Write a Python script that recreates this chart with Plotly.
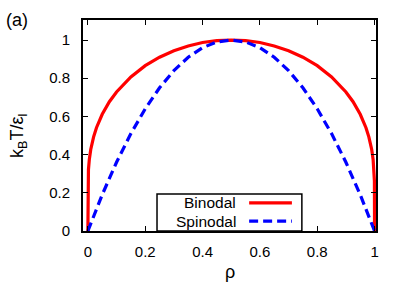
import plotly.graph_objects as go

# Data
rho_binodal = [0.0, 0.0005, 0.002, 0.005, 0.01, 0.02, 0.03, 0.05, 0.075, 0.1, 0.15, 0.2, 0.25, 0.3, 0.35, 0.4, 0.45, 0.5,
               0.55, 0.6, 0.65, 0.7, 0.75, 0.8, 0.85, 0.9, 0.925, 0.95, 0.97, 0.98, 0.99, 0.995, 0.998, 0.9995, 1.0]
T_binodal = [0.0, 0.263, 0.321, 0.374, 0.427, 0.493, 0.541, 0.611, 0.677, 0.728, 0.807, 0.866, 0.910, 0.944, 0.969, 0.987, 0.997, 1.0,
             0.997, 0.987, 0.969, 0.944, 0.910, 0.866, 0.807, 0.728, 0.677, 0.611, 0.541, 0.493, 0.427, 0.374, 0.321, 0.263, 0.0]

rho_spinodal = [0.0, 0.05, 0.1, 0.15, 0.2, 0.25, 0.3, 0.35, 0.4, 0.45, 0.5, 0.55, 0.6, 0.65, 0.7, 0.75, 0.8, 0.85, 0.9, 0.95, 1.0]
T_spinodal = [0.0, 0.19, 0.36, 0.51, 0.64, 0.75, 0.84, 0.91, 0.96, 0.99, 1.0, 0.99, 0.96, 0.91, 0.84, 0.75, 0.64, 0.51, 0.36, 0.19, 0.0]

tick_vals = [0, 0.2, 0.4, 0.6, 0.8, 1]
tick_text = ["0", "0.2", "0.4", "0.6", "0.8", "1"]
legend_names = ["Binodal", "Spinodal"]
x_title = "ρ"
y_title = "k<sub>B</sub>T/ε<sub>l</sub>"
panel_label = "(a)"

FONT = "Liberation Sans, Arial, sans-serif"
RED = "#ff0000"
BLUE = "#0000ff"

fig = go.Figure()
fig.add_trace(go.Scatter(x=rho_binodal, y=T_binodal, mode="lines",
                         line=dict(color=RED, width=3.2), name=legend_names[0], showlegend=False))
fig.add_trace(go.Scatter(x=rho_spinodal, y=T_spinodal, mode="lines",
                         line=dict(color=BLUE, width=3.2, dash="9px,5px"), name=legend_names[1], showlegend=False))

axis_common = dict(
    showgrid=False, zeroline=False, showline=True, linecolor="black", linewidth=2,
    mirror="allticks", ticks="inside", ticklen=5, tickwidth=1, tickcolor="black",
    tickvals=tick_vals, ticktext=tick_text, automargin=False,
    tickfont=dict(family=FONT, size=15, color="black"),
)
fig.update_xaxes(range=[-0.017, 1.005], ticklabelstandoff=6, **axis_common)
fig.update_yaxes(range=[0, 1.105], ticklabelstandoff=8, **axis_common)

# custom gnuplot-style legend (text right, sample left)
shapes = [dict(type="rect", xref="paper", yref="paper", x0=0.2526, x1=0.747, y0=0.0, y1=0.175,
               line=dict(color="black", width=1.5), fillcolor="white", layer="above"),
          dict(type="line", xref="paper", yref="paper", x0=0.567, x1=0.713, y0=0.133, y1=0.133,
               line=dict(color=RED, width=3.2), layer="above"),
          dict(type="line", xref="paper", yref="paper", x0=0.567, x1=0.713, y0=0.047, y1=0.047,
               line=dict(color=BLUE, width=3.2, dash="9px,5px"), layer="above")]
annotations = [dict(text=legend_names[0], xref="paper", yref="paper", x=0.529, y=0.133, xanchor="right", yanchor="middle",
                    showarrow=False, font=dict(family=FONT, size=15.5, color="black")),
               dict(text=legend_names[1], xref="paper", yref="paper", x=0.529, y=0.047, xanchor="right", yanchor="middle",
                    showarrow=False, font=dict(family=FONT, size=15.5, color="black")),
               dict(text=panel_label, xref="paper", yref="paper", x=-0.27, y=1.0, xanchor="left", yanchor="middle",
                    showarrow=False, font=dict(family=FONT, size=18, color="black")),
               dict(text=x_title, xref="paper", yref="paper", x=0.5, y=-0.195, xanchor="center", yanchor="middle",
                    showarrow=False, font=dict(family=FONT, size=18, color="black")),
               dict(text=y_title, xref="paper", yref="paper", x=-0.222, y=0.45, xanchor="center", yanchor="middle",
                    textangle=-90, showarrow=False, font=dict(family=FONT, size=18, color="black"))]

fig.update_layout(
    width=407, height=285,
    margin=dict(l=83, r=31, t=20, b=54, autoexpand=False),
    paper_bgcolor="white", plot_bgcolor="white",
    shapes=shapes, annotations=annotations,
    showlegend=False,
)
fig.write_html("out.html", config={"displayModeBar": False},
               post_script="document.body.style.margin='0';document.body.style.padding='0';")
